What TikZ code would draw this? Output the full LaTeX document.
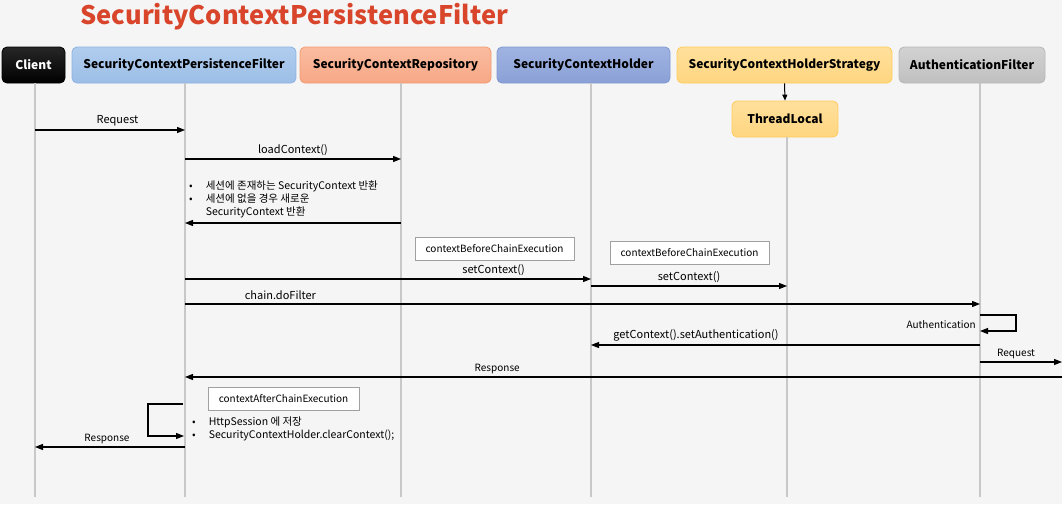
\documentclass[tikz,border=0pt]{standalone}
\usepackage{fontspec}
\setmainfont{Noto Sans CJK KR}
\usetikzlibrary{arrows.meta}

\definecolor{bggray}{HTML}{F5F5F5}
\definecolor{titlered}{HTML}{D8452B}
\definecolor{lifegray}{HTML}{C8C8C8}
\definecolor{memogray}{HTML}{A0A0A0}

\tikzset{
  head/.style={rounded corners=5pt, minimum height=36pt, inner xsep=0pt, line width=0.8pt,
    font=\fontsize{12}{14}\selectfont\bfseries},
  life/.style={draw=lifegray, line width=1.2pt},
  msg/.style={-{Triangle[length=8pt,width=6pt]}, line width=1.1pt},
  lbl/.style={font=\fontsize{11}{13}\selectfont, inner sep=1pt},
  memo/.style={draw=memogray, fill=white, minimum height=23pt, inner xsep=0pt,
    font=\fontsize{10}{12}\selectfont},
  bul/.style={font=\fontsize{10.5}{13}\selectfont, inner sep=0pt, align=left}
}

\begin{document}
\begin{tikzpicture}[x=1pt,y=-1pt]

  \fill[bggray] (0,0) rectangle (1062,504);
  \useasboundingbox (0,0) rectangle (1062,504);

  \node[font=\fontsize{25.5}{28}\selectfont\bfseries, text=titlered, anchor=west, inner sep=0pt]
    (title) at (80,17) {SecurityContextPersistenceFilter};

  % participants
  \node[head, text=white, top color=black!85, bottom color=black, draw=black, minimum width=63pt]
    (client) at (33.5,65) {Client};
  \node[head, top color={rgb,255:red,176;green,205;blue,238}, bottom color={rgb,255:red,156;green,190;blue,230},
    draw={rgb,255:red,141;green,179;blue,226}, minimum width=224pt] (filter) at (184,65) {SecurityContextPersistenceFilter};
  \node[head, top color={rgb,255:red,250;green,188;blue,160}, bottom color={rgb,255:red,247;green,168;blue,134},
    draw={rgb,255:red,244;green,154;blue,110}, minimum width=191pt] (repo) at (395.5,65) {SecurityContextRepository};
  \node[head, top color={rgb,255:red,160;green,180;blue,226}, bottom color={rgb,255:red,138;green,160;blue,214},
    draw={rgb,255:red,127;green,152;blue,211}, minimum width=173pt] (holder) at (583.5,65) {SecurityContextHolder};
  \node[head, top color={rgb,255:red,255;green,224;blue,156}, bottom color={rgb,255:red,255;green,214;blue,128},
    draw={rgb,255:red,255;green,204;blue,92}, minimum width=215pt] (strat) at (784.5,65) {SecurityContextHolderStrategy};
  \node[head, top color={rgb,255:red,210;green,210;blue,210}, bottom color={rgb,255:red,192;green,192;blue,192},
    draw={rgb,255:red,184;green,184;blue,184}, minimum width=146pt] (authf) at (972,65) {AuthenticationFilter};
  \node[head, top color={rgb,255:red,255;green,224;blue,156}, bottom color={rgb,255:red,255;green,214;blue,128},
    draw={rgb,255:red,255;green,204;blue,92}, minimum width=106pt] (tl) at (785,119) {ThreadLocal};

  \draw[-{Triangle[length=6pt,width=5pt]}, line width=1pt] (strat.south) -- (tl.north);

  % lifelines
  \foreach \n/\x/\y in {cl/35/83, pf/185/83, rp/401/83, hd/591/83, st/787/137, af/980/83}{
    \coordinate (\n) at (\x,\y);
    \coordinate (\n-e) at (\x,497);
    \draw[life] (\n) -- (\n-e);
  }
  \coordinate (edge) at (1062,0);

  % messages
  \draw[msg] (cl |- 0,130) -- node[lbl, above=2pt, pos=0.55] (m1) {Request} (pf |- 0,130);
  \draw[msg] (pf |- 0,159) -- node[lbl, above=2pt] (m2) {loadContext()} (rp |- 0,159);
  \draw[msg] (rp |- 0,223) -- (pf |- 0,223);
  \node[bul, anchor=west] (found) at (189,200) {\begin{tabular}{@{}l@{\hspace{13pt}}l@{}}
    •&세션에 존재하는 SecurityContext 반환\\
    •&세션에 없을 경우 새로운\\
    &SecurityContext 반환\end{tabular}};

  \node[memo, minimum width=159pt] (before1) at (494.5,248.5) {contextBeforeChainExecution};
  \draw[msg] (pf |- 0,279) -- node[lbl, above=2pt, pos=0.76] (m3) {setContext()} (hd |- 0,279);
  \node[memo, minimum width=159pt] (before2) at (689.5,252.5) {contextBeforeChainExecution};
  \draw[msg] (hd |- 0,286) -- node[lbl, above=2pt, pos=0.5] (m4) {setContext()} (st |- 0,286);

  \draw[msg] (pf |- 0,304) -- node[lbl, above=3pt, pos=0.12] (m5) {chain.doFilter} (af |- 0,304);
  \draw[msg] (af |- 0,315) -- ++(36,0) |- (af |- 0,331);
  \node[lbl, anchor=east, font=\fontsize{10}{12}\selectfont] (m6) at (977,325) {Authentication};
  \draw[msg] (af |- 0,345) -- node[lbl, above=2pt, pos=0.73] (m7) {getContext().setAuthentication()} (hd |- 0,345);
  \draw[msg] (af |- 0,362) -- node[lbl, above=2pt, pos=0.44, font=\fontsize{10}{12}\selectfont] (m8) {Request} (edge |- 0,362);
  \draw[msg] (edge |- 0,377) -- node[lbl, above=2pt, pos=0.644, font=\fontsize{10}{12}\selectfont] (m9) {Response} (pf |- 0,377);

  \node[memo, minimum width=151pt] (after) at (283.5,398.5) {contextAfterChainExecution};
  \draw[msg] ([xshift=-2pt]pf |- 0,404) -- ++(-35,0) |- ([xshift=-1pt]pf |- 0,436);
  \node[bul, anchor=west] (saved) at (192,429) {\begin{tabular}{@{}l@{\hspace{13pt}}l@{}}
    •&HttpSession 에 저장\\
    •&SecurityContextHolder.clearContext();\end{tabular}};
  \draw[msg] (pf |- 0,447) -- node[lbl, above=2pt, pos=0.52, font=\fontsize{10}{12}\selectfont] (m10) {Response} (cl |- 0,447);

\end{tikzpicture}
\end{document}
